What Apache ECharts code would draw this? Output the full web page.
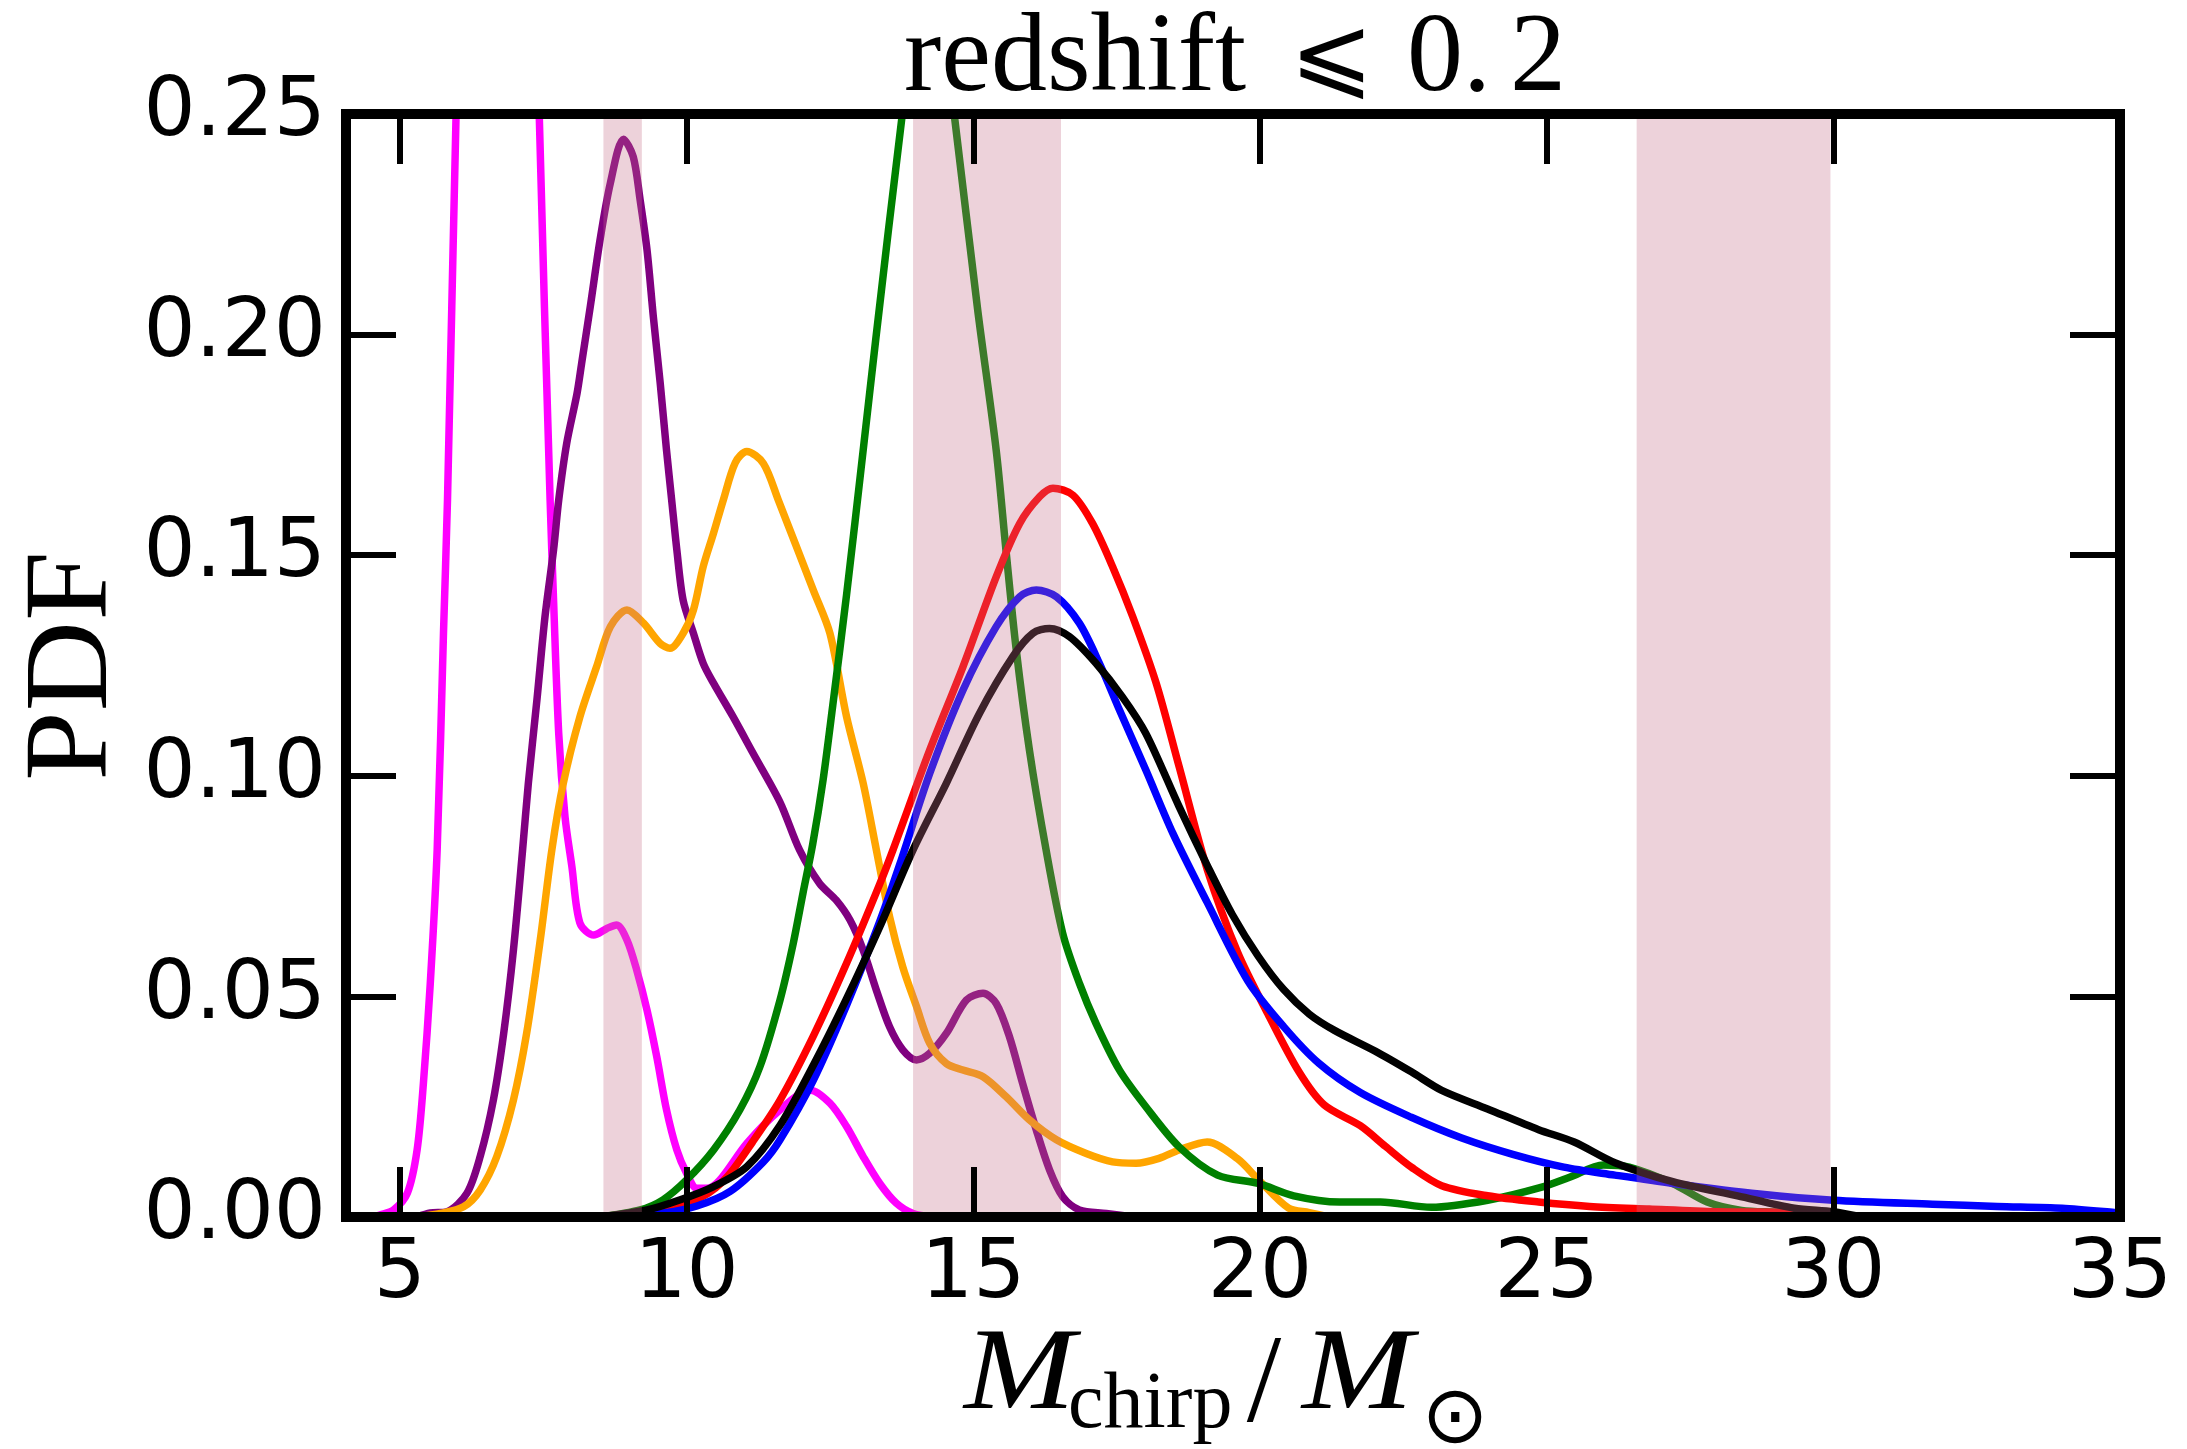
<!DOCTYPE html>
<html>
<head>
<meta charset="utf-8">
<script src="https://cdn.jsdelivr.net/npm/echarts@6/dist/echarts.min.js"></script>
<style>
  html, body { margin: 0; padding: 0; background: #ffffff; }
  #main { width: 2187px; height: 1449px; }
</style>
</head>
<body>
<div id="main"></div>
<script>
// ---------------- data ----------------
const xTicks = [5, 10, 15, 20, 25, 30, 35];
const yTicks = [0, 0.05, 0.10, 0.15, 0.20, 0.25];

// shaded intervals (chirp-mass ranges)
const bandStart = [8.55, 13.95, 26.57];
const bandEnd   = [9.22, 16.53, 29.95];

const magentaX = [4.5, 4.66, 4.89, 5.13, 5.30, 5.41, 5.53, 5.65, 5.76, 5.83, 5.98, 6.2, 6.5, 6.75, 7.0, 7.25, 7.43, 7.62, 7.68, 7.77, 7.88, 8.0, 8.14, 8.38, 8.61, 8.78, 8.96, 9.13, 9.31, 9.48, 9.65, 9.83, 10.0, 10.18, 10.35, 10.58, 11.05, 11.63, 12.15, 12.50, 12.79, 13.08, 13.37, 13.66, 13.95, 14.3];
const magentaY = [0, 0.0005, 0.0016, 0.0054, 0.0152, 0.0303, 0.053, 0.0832, 0.1323, 0.1625, 0.25, 0.36, 0.46, 0.49, 0.45, 0.36, 0.25, 0.1625, 0.1398, 0.1096, 0.0907, 0.0794, 0.0666, 0.0639, 0.0654, 0.0662, 0.0628, 0.056, 0.0469, 0.0363, 0.0243, 0.0152, 0.0099, 0.0065, 0.0065, 0.0084, 0.0167, 0.0243, 0.0288, 0.0258, 0.0205, 0.0137, 0.0076, 0.0031, 0.0008, 0];

const purpleX = [5.3, 5.53, 5.82, 6.17, 6.40, 6.63, 6.81, 6.98, 7.14, 7.24, 7.39, 7.53, 7.68, 7.77, 7.91, 8.09, 8.17, 8.32, 8.49, 8.67, 8.90, 9.07, 9.19, 9.31, 9.42, 9.54, 9.65, 9.74, 9.83, 9.94, 10.12, 10.29, 10.47, 10.81, 11.16, 11.63, 11.97, 12.32, 12.61, 12.85, 13.08, 13.31, 13.54, 13.77, 14.01, 14.24, 14.53, 14.88, 15.17, 15.40, 15.63, 15.86, 16.10, 16.33, 16.56, 16.85, 17.32, 17.8];
const purpleY = [0, 0.0009, 0.0012, 0.0054, 0.0137, 0.0265, 0.0416, 0.0605, 0.0832, 0.0983, 0.1172, 0.136, 0.1512, 0.1625, 0.1754, 0.1867, 0.1935, 0.2063, 0.2214, 0.2343, 0.2443, 0.2403, 0.2305, 0.2192, 0.2041, 0.189, 0.1738, 0.1625, 0.1512, 0.1398, 0.1323, 0.1255, 0.121, 0.1134, 0.1051, 0.094, 0.0832, 0.0756, 0.0718, 0.0673, 0.0605, 0.0514, 0.0431, 0.0379, 0.0356, 0.0371, 0.0416, 0.0492, 0.0507, 0.0484, 0.0409, 0.0303, 0.0197, 0.0107, 0.0046, 0.0016, 0.0008, 0];

const orangeX = [5.3, 5.71, 6.11, 6.40, 6.69, 6.98, 7.21, 7.45, 7.65, 7.85, 8.14, 8.43, 8.67, 8.96, 9.25, 9.54, 9.71, 9.94, 10.12, 10.29, 10.47, 10.64, 10.85, 11.05, 11.34, 11.6, 12.21, 12.50, 12.79, 13.08, 13.31, 13.54, 13.77, 14.01, 14.24, 14.53, 14.82, 15.17, 15.57, 15.98, 16.45, 16.97, 17.43, 17.84, 18.24, 18.59, 19.08, 19.61, 19.97, 20.5, 20.86, 21.2];
const orangeY = [0, 0.0008, 0.0023, 0.0061, 0.0137, 0.0265, 0.0416, 0.063, 0.0832, 0.0983, 0.1134, 0.1247, 0.1338, 0.1376, 0.1346, 0.13, 0.1289, 0.1323, 0.1376, 0.1474, 0.155, 0.1625, 0.171, 0.1735, 0.1708, 0.1625, 0.1421, 0.1323, 0.1134, 0.0983, 0.0832, 0.0681, 0.0567, 0.0477, 0.0394, 0.0348, 0.0333, 0.0318, 0.0273, 0.022, 0.0175, 0.0144, 0.0125, 0.0122, 0.0133, 0.0152, 0.017, 0.0132, 0.0085, 0.002, 0.001, 0];

const greenX = [8.5, 9.19, 9.59, 10.0, 10.47, 10.93, 11.28, 11.63, 11.86, 12.03, 12.2, 12.38, 12.55, 12.79, 13.08, 13.3, 13.75, 14.0, 14.2, 14.45, 14.68, 15.08, 15.40, 15.57, 15.75, 15.98, 16.27, 16.56, 16.85, 17.14, 17.55, 18.01, 18.59, 19.26, 19.97, 20.59, 21.39, 22.1, 22.99, 23.97, 24.9, 25.4, 25.99, 26.44, 27.2, 27.8, 28.4, 29.09, 29.8];
const greenY = [0, 0.0016, 0.0039, 0.0084, 0.0152, 0.0243, 0.0341, 0.0492, 0.062, 0.0734, 0.0845, 0.099, 0.116, 0.141, 0.1738, 0.199, 0.2486, 0.272, 0.283, 0.272, 0.2486, 0.2053, 0.1738, 0.1512, 0.1285, 0.1058, 0.0832, 0.0643, 0.053, 0.0439, 0.0333, 0.025, 0.0159, 0.0095, 0.0076, 0.0048, 0.0034, 0.0034, 0.0022, 0.0038, 0.0067, 0.009, 0.0118, 0.0113, 0.0076, 0.0034, 0.0015, 0.001, 0];

const redX = [8.5, 9.5, 10.3, 10.7, 11.15, 11.63, 12.21, 12.79, 13.37, 13.6, 14.24, 14.82, 15.40, 15.81, 16.16, 16.39, 16.74, 17.08, 17.43, 17.78, 18.19, 18.59, 19.08, 19.61, 20.14, 20.68, 21.12, 21.75, 22.19, 22.64, 23.17, 23.97, 24.86, 25.75, 26.79, 27.95, 29.46, 30.5];
const redY = [0, 0.001, 0.0048, 0.009, 0.017, 0.0265, 0.041, 0.0575, 0.0755, 0.0832, 0.1058, 0.1247, 0.1451, 0.1572, 0.1633, 0.1652, 0.1636, 0.1572, 0.1474, 0.1361, 0.121, 0.1021, 0.0788, 0.06, 0.046, 0.0329, 0.0254, 0.0207, 0.016, 0.0113, 0.0071, 0.0048, 0.0034, 0.0024, 0.0018, 0.0012, 0.001, 0];

const blueX = [8.8, 9.59, 10.18, 10.76, 11.34, 11.63, 12.21, 12.79, 13.37, 13.72, 14.24, 14.82, 15.40, 15.81, 16.10, 16.45, 16.85, 17.20, 17.55, 18.01, 18.48, 19.08, 19.79, 20.41, 21.03, 21.75, 22.64, 23.52, 24.41, 25.3, 26.19, 27.2, 28.71, 30.0, 31.73, 32.86, 33.99, 34.9, 35];
const blueY = [0, 0.0009, 0.0025, 0.0058, 0.0125, 0.0175, 0.031, 0.048, 0.067, 0.08, 0.1005, 0.1194, 0.1338, 0.1406, 0.1421, 0.1406, 0.1346, 0.1255, 0.1149, 0.1013, 0.087, 0.0713, 0.0535, 0.0432, 0.0348, 0.0282, 0.0226, 0.0179, 0.0142, 0.0113, 0.0095, 0.0076, 0.0052, 0.0038, 0.0029, 0.0024, 0.002, 0.001, 0.0008];

const blackX = [8.5, 9.31, 9.89, 10.47, 11.05, 11.63, 12.21, 12.79, 13.37, 13.95, 14.53, 15.11, 15.69, 16.04, 16.33, 16.68, 17.14, 17.60, 18.01, 18.59, 19.08, 19.52, 19.97, 20.41, 20.86, 21.3, 22.01, 22.64, 23.17, 23.97, 24.86, 25.48, 26.19, 27.2, 28.33, 29.32, 30.0, 30.5];
const blackY = [0, 0.0016, 0.0039, 0.0069, 0.0114, 0.0208, 0.0344, 0.0495, 0.0658, 0.0832, 0.0983, 0.1142, 0.127, 0.1323, 0.1334, 0.1315, 0.1255, 0.1179, 0.1096, 0.093, 0.0797, 0.0685, 0.0591, 0.0516, 0.046, 0.0423, 0.0376, 0.0329, 0.0287, 0.0245, 0.0198, 0.017, 0.0123, 0.008, 0.0048, 0.002, 0.0012, 0];

// ---------------- chart ----------------
const zip = (xs, ys) => xs.map((x, i) => [x, ys[i]]);
const curves = [
  { name: 'magenta', x: magentaX, y: magentaY, color: '#FF00FF' },
  { name: 'purple',  x: purpleX,  y: purpleY,  color: '#800080' },
  { name: 'orange',  x: orangeX,  y: orangeY,  color: '#FFA500' },
  { name: 'green',   x: greenX,   y: greenY,   color: '#008000' },
  { name: 'red',     x: redX,     y: redY,     color: '#FF0000' },
  { name: 'blue',    x: blueX,    y: blueY,    color: '#0000FF' },
  { name: 'black',   x: blackX,   y: blackY,   color: '#000000' }
];

const chart = echarts.init(document.getElementById('main'), null, { renderer: 'canvas' });

const AX_W = 10, TICK_W = 6, TICK_L = 50;
const axisLineStyle = { color: '#000', width: AX_W, cap: 'square' };
const tickLabelFont = { fontFamily: '"DejaVu Sans"', fontSize: 82, color: '#000' };

const serif = '"Liberation Serif", "DejaVu Serif", serif';

const option = {
  animation: false,
  backgroundColor: '#ffffff',
  grid: { left: 346, top: 114, right: 67, bottom: 232, containLabel: false, outerBoundsMode: 'none' },
  xAxis: [
    {
      type: 'value', min: 4.06, max: 35, position: 'bottom', z: 10,
      axisLine: { show: true, onZero: false, lineStyle: axisLineStyle },
      axisTick: { show: true, inside: true, length: TICK_L, customValues: xTicks, lineStyle: { color: '#000', width: TICK_W } },
      axisLabel: { show: true, customValues: xTicks, margin: 18, ...tickLabelFont },
      splitLine: { show: false }
    },
    {
      type: 'value', min: 4.06, max: 35, position: 'top', z: 10,
      axisLine: { show: true, onZero: false, lineStyle: axisLineStyle },
      axisTick: { show: true, inside: true, length: TICK_L, customValues: xTicks, lineStyle: { color: '#000', width: TICK_W } },
      axisLabel: { show: false },
      splitLine: { show: false }
    }
  ],
  yAxis: [
    {
      type: 'value', min: 0, max: 0.25, interval: 0.05, position: 'left', z: 10,
      axisLine: { show: true, onZero: false, lineStyle: axisLineStyle },
      axisTick: { show: true, inside: true, length: TICK_L, lineStyle: { color: '#000', width: TICK_W } },
      axisLabel: { show: true, margin: 20, formatter: v => v.toFixed(2), ...tickLabelFont },
      splitLine: { show: false }
    },
    {
      type: 'value', min: 0, max: 0.25, interval: 0.05, position: 'right', z: 10,
      axisLine: { show: true, onZero: false, lineStyle: axisLineStyle },
      axisTick: { show: true, inside: true, length: TICK_L, lineStyle: { color: '#000', width: TICK_W } },
      axisLabel: { show: false },
      splitLine: { show: false }
    }
  ],
  series: [
    ...curves.map(c => ({
      type: 'line', name: c.name, data: zip(c.x, c.y),
      xAxisIndex: 0, yAxisIndex: 0,
      smooth: 0.3,
      showSymbol: false, symbol: 'none', clip: true,
      lineStyle: { color: c.color, width: 7.5, join: 'round' },
      z: 2
    })),
    {
      type: 'custom', name: 'bands', xAxisIndex: 0, yAxisIndex: 0, z: 5, clip: true,
      data: bandStart.map((s, i) => [s, bandEnd[i]]),
      renderItem: (params, api) => {
        const p0 = api.coord([api.value(0), 0.25]);
        const p1 = api.coord([api.value(1), 0]);
        return {
          type: 'rect',
          shape: { x: p0[0], y: p0[1], width: p1[0] - p0[0], height: p1[1] - p0[1] },
          style: { fill: 'rgba(197,110,135,0.31)' }
        };
      }
    }
  ],
  graphic: [
    // title: redshift ⩽ 0.2
    { type: 'text', x: 904, y: 61, style: { text: 'redshift', font: '112px ' + serif, fill: '#000', textAlign: 'left', textVerticalAlign: 'middle' } },
    { type: 'text', x: 1332, y: 61, style: { text: '\u2A7D', font: '100px "DejaVu Sans", "DejaVu Math TeX Gyre", sans-serif', fill: '#000', textAlign: 'center', textVerticalAlign: 'middle' } },
    { type: 'text', x: 1407, y: 61, style: { text: '0.', font: '112px ' + serif, fill: '#000', textAlign: 'left', textVerticalAlign: 'middle' } },
    { type: 'text', x: 1510, y: 61, style: { text: '2', font: '112px ' + serif, fill: '#000', textAlign: 'left', textVerticalAlign: 'middle' } },
    // y-axis label
    { type: 'text', x: 75, y: 666, rotation: Math.PI / 2, scaleX: 1.06, style: { text: 'PDF', font: '118px ' + serif, fill: '#000', textAlign: 'center', textVerticalAlign: 'middle' } },
    // x-axis label: M_chirp / M_sun
    { type: 'text', x: 964, y: 1377, scaleX: 1.15, style: { text: 'M', font: 'italic 116px ' + serif, fill: '#000', textAlign: 'left', textVerticalAlign: 'middle' } },
    { type: 'text', x: 1068, y: 1406, style: { text: 'chirp', font: '80px ' + serif, fill: '#000', textAlign: 'left', textVerticalAlign: 'middle' } },
    { type: 'text', x: 1264, y: 1388, style: { text: '/', font: '124px ' + serif, fill: '#000', textAlign: 'center', textVerticalAlign: 'middle' } },
    { type: 'text', x: 1302, y: 1377, scaleX: 1.15, style: { text: 'M', font: 'italic 116px ' + serif, fill: '#000', textAlign: 'left', textVerticalAlign: 'middle' } },
    { type: 'text', x: 1455, y: 1421, style: { text: '\u2299', font: '80px "DejaVu Sans", sans-serif', fill: '#000', textAlign: 'center', textVerticalAlign: 'middle' } }
  ]
};

chart.setOption(option);
</script>
</body>
</html>
